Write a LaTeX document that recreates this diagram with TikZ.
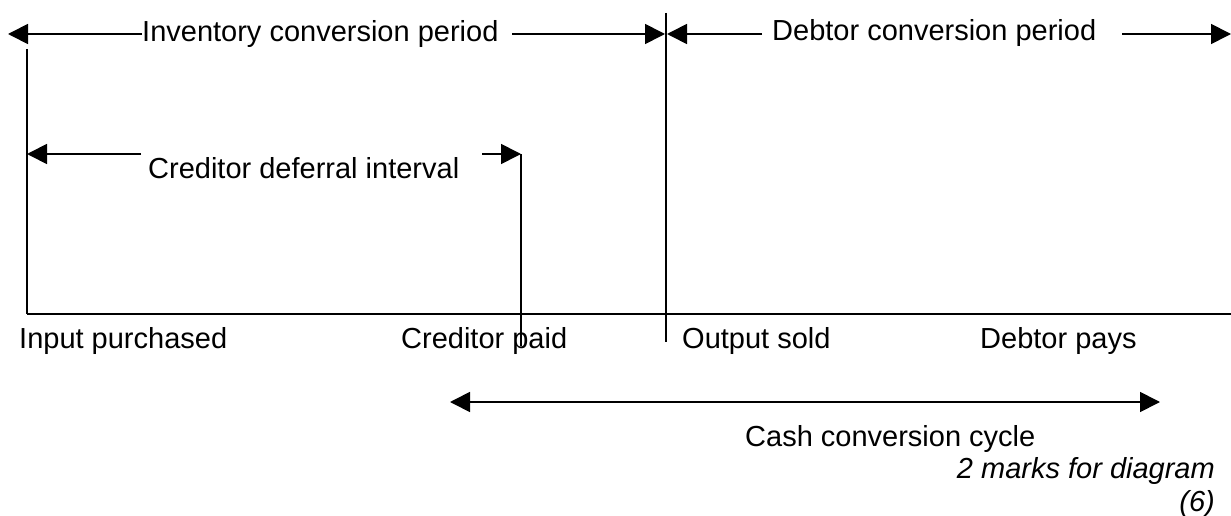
\documentclass[tikz,border=0pt]{standalone}
\usepackage{fontspec}
\setmainfont{Liberation Sans}
\usetikzlibrary{arrows.meta}
\tikzset{
  rule/.style={line width=1.7pt, line cap=butt},
  tipped/.style={rule, -{Triangle[length=20pt,width=20pt]}},
  both/.style={rule, {Triangle[length=20pt,width=20pt]}-{Triangle[length=20pt,width=20pt]}},
  lbl/.style={font=\fontsize{29}{34}\selectfont, inner sep=0pt, anchor=base west},
  note/.style={font=\fontsize{29}{34}\selectfont\itshape, inner sep=0pt, anchor=base east},
}
\begin{document}
\begin{tikzpicture}[x=1pt,y=-1pt]
\useasboundingbox (0,0) rectangle (1231,516);

% time line and markers
\coordinate (tl0) at (27,314);
\coordinate (tl1) at (1231,314);
\draw[rule] (tl0) -- (tl1);
\coordinate (v0top) at (27,49);
\draw[rule] (v0top) -- (tl0);
\coordinate (vmidtop) at (666,13);
\coordinate (vmidbot) at (666,342);
\draw[rule] (vmidtop) -- (vmidbot);
\coordinate (vcredtop) at (521,154);
\coordinate (vcredbot) at (521,346);
\draw[rule] (vcredtop) -- (vcredbot);

% inventory conversion period
\node[lbl] (inv) at (142,42) {Inventory conversion period};
\coordinate (invL) at (8,34);
\coordinate (invRa) at (512,34);
\coordinate (invRb) at (665,34);
\draw[tipped] (inv.west |- invL) -- (invL);
\draw[tipped] (invRa) -- (invRb);

% debtor conversion period
\node[lbl] (deb) at (772,41) {Debtor conversion period};
\coordinate (debLa) at (762,34);
\coordinate (debLb) at (667,34);
\coordinate (debRa) at (1122,34);
\coordinate (debRb) at (1231,34);
\draw[tipped] (debLa) -- (debLb);
\draw[tipped] (debRa) -- (debRb);

% creditor deferral interval
\node[lbl] (cred) at (148,178) {Creditor deferral interval};
\coordinate (credLa) at (141,154);
\coordinate (credLb) at (27,154);
\coordinate (credRa) at (482,154);
\draw[tipped] (credLa) -- (credLb);
\draw[tipped] (credRa) -- (vcredtop);

% event labels
\node[lbl] (inp) at (19,348) {Input purchased};
\node[lbl] (cp) at (401,348) {Creditor paid};
\node[lbl] (os) at (682,348) {Output sold};
\node[lbl] (dp) at (980,348) {Debtor pays};

% cash conversion cycle
\coordinate (ccL) at (450,402);
\coordinate (ccR) at (1160,402);
\draw[both] (ccL) -- (ccR);
\node[lbl] (ccc) at (745,446) {Cash conversion cycle};
\node[note] (mk) at (1215,478) {2 marks for diagram};
\node[note] (six) at (1215,511) {(6)};
\end{tikzpicture}
\end{document}
